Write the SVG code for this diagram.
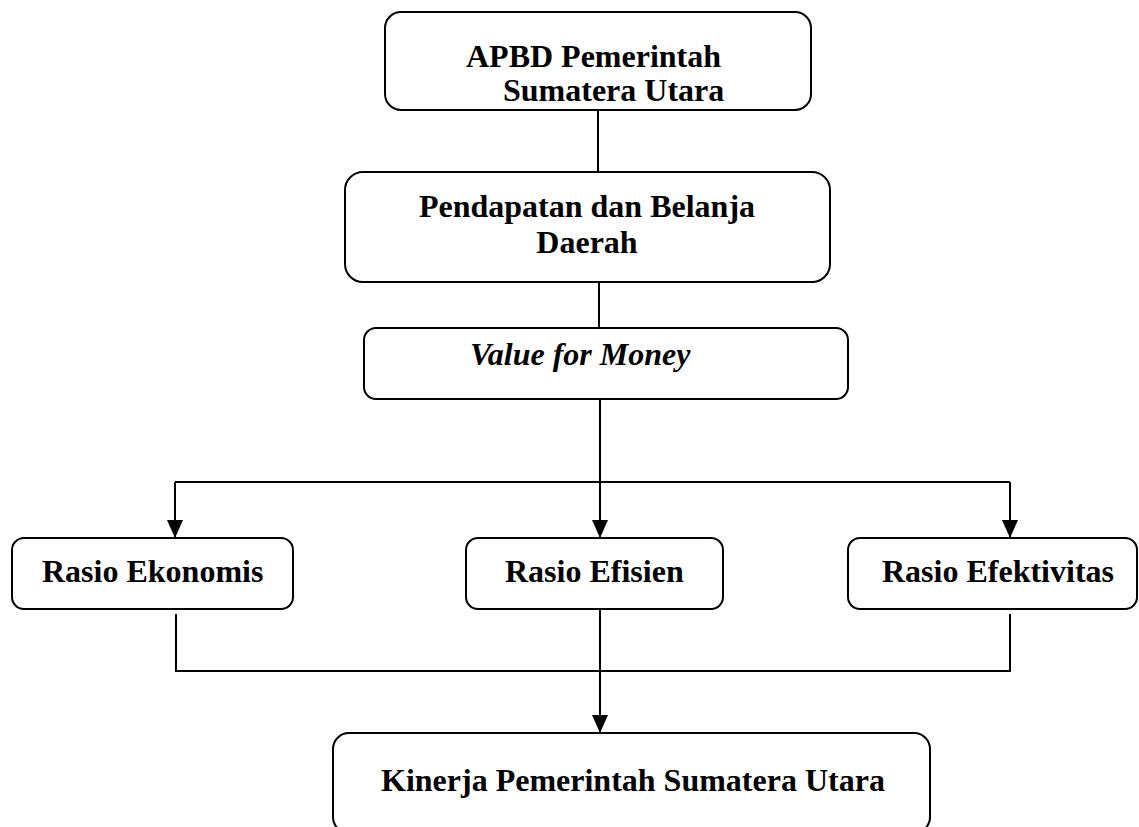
<svg xmlns="http://www.w3.org/2000/svg" width="1139" height="827" viewBox="0 0 1139 827">
<style>
.box{fill:#fff;stroke:#000;stroke-width:2}
.t{font-family:"Liberation Serif","Times New Roman",serif;font-size:32px;font-weight:bold;fill:#000}
.i{font-style:italic}
.c{fill:none;stroke:#000;stroke-width:2}
</style>
<defs>
<marker id="ah" markerUnits="userSpaceOnUse" markerWidth="18" markerHeight="16" viewBox="0 0 18 16" refX="18" refY="8" orient="auto">
<path d="M0 0 L18 8 L0 16 Z" fill="#000"/>
</marker>
</defs>
<rect x="0" y="0" width="1139" height="827" fill="#fff"/>
<g id="connectors">
<path class="c" d="M598 110 V172"/>
<path class="c" d="M599 282 V328"/>
<path class="c" d="M600 399 V538" marker-end="url(#ah)"/>
<path class="c" d="M175 482 H1010"/>
<path class="c" d="M175 482 V538" marker-end="url(#ah)"/>
<path class="c" d="M1010 482 V538" marker-end="url(#ah)"/>
<path class="c" d="M176 614 V671 H1010 V614"/>
<path class="c" d="M600 609 V733" marker-end="url(#ah)"/>
</g>
<g id="apbd">
<rect class="box" x="385" y="12" width="426" height="98" rx="16"/>
<text class="t" x="466" y="67">APBD Pemerintah</text>
<text class="t" x="503" y="101">Sumatera Utara</text>
</g>
<g id="pendapatan">
<rect class="box" x="345" y="172" width="485" height="110" rx="18"/>
<text class="t" x="587" y="217" text-anchor="middle">Pendapatan dan Belanja</text>
<text class="t" x="587" y="253" text-anchor="middle">Daerah</text>
</g>
<g id="vfm">
<rect class="box" x="364" y="328" width="484" height="71" rx="12"/>
<text class="t i" x="470" y="365">Value for Money</text>
</g>
<g id="ekonomis">
<rect class="box" x="12" y="538" width="281" height="71" rx="12"/>
<text class="t" x="42" y="582">Rasio Ekonomis</text>
</g>
<g id="efisien">
<rect class="box" x="466" y="538" width="257" height="71" rx="12"/>
<text class="t" x="505" y="582">Rasio Efisien</text>
</g>
<g id="efektivitas">
<rect class="box" x="848" y="538" width="289" height="71" rx="12"/>
<text class="t" x="882" y="582">Rasio Efektivitas</text>
</g>
<g id="kinerja">
<rect class="box" x="333" y="733" width="597" height="100" rx="16"/>
<text class="t" x="381" y="791">Kinerja Pemerintah Sumatera Utara</text>
</g>
</svg>
